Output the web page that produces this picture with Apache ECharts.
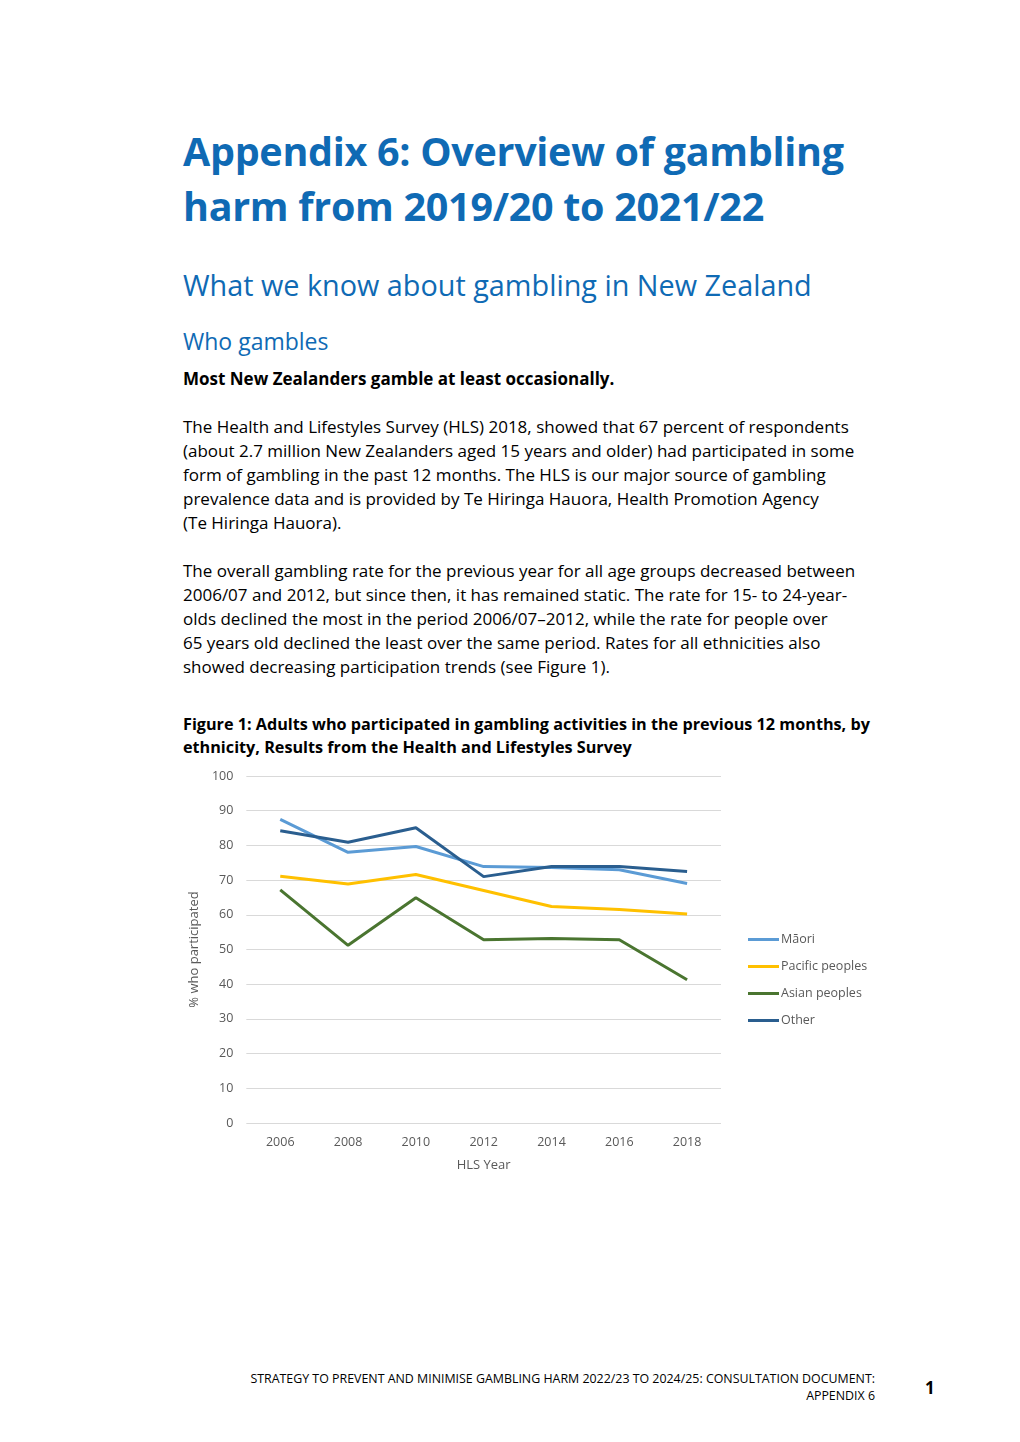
<!DOCTYPE html>
<html>
<head>
<meta charset="utf-8">
<script src="https://cdn.jsdelivr.net/npm/echarts@6/dist/echarts.min.js"></script>
<style>
  html, body { margin: 0; padding: 0; background: #fff; }
  body { width: 1020px; height: 1442px; position: relative; font-family: "Open Sans", "Noto Sans", sans-serif; color: #000; }
  .t { position: absolute; white-space: nowrap; left: 183px; }
  .h1 { font-size: 39.5px; font-weight: 700; color: #0F6AB4; letter-spacing: -0.3px; }
  .h2 { font-size: 28.8px; font-weight: 400; color: #0F6AB4; }
  .h3 { font-size: 23px; font-weight: 400; color: #0F6AB4; }
  .p { font-size: 17px; line-height: 24px; }
  .b { font-weight: 700; }
  .cap { font-size: 16.2px; }
  .foot { font-size: 12.4px; text-align: right; right: 145px; left: auto; }
  #chart { position: absolute; left: 180px; top: 760px; width: 700px; height: 430px; }
</style>
</head>
<body>
<div class="t h1" style="top:124px;">Appendix 6: Overview of gambling</div>
<div class="t h1" style="top:179px;">harm from 2019/20 to 2021/22</div>
<div class="t h2" style="top:265px;">What we know about gambling in New Zealand</div>
<div class="t h3" style="top:325px;">Who gambles</div>
<div class="t p b" style="top:367px;">Most New Zealanders gamble at least occasionally.</div>
<div class="t p" style="top:415px;">The Health and Lifestyles Survey (HLS) 2018, showed that 67 percent of respondents</div>
<div class="t p" style="top:439px;">(about 2.7 million New Zealanders aged 15 years and older) had participated in some</div>
<div class="t p" style="top:463px;">form of gambling in the past 12 months. The HLS is our major source of gambling</div>
<div class="t p" style="top:487px;">prevalence data and is provided by Te Hiringa Hauora, Health Promotion Agency</div>
<div class="t p" style="top:511px;">(Te Hiringa Hauora).</div>
<div class="t p" style="top:559px;">The overall gambling rate for the previous year for all age groups decreased between</div>
<div class="t p" style="top:583px;">2006/07 and 2012, but since then, it has remained static. The rate for 15- to 24-year-</div>
<div class="t p" style="top:607px;">olds declined the most in the period 2006/07–2012, while the rate for people over</div>
<div class="t p" style="top:631px;">65 years old declined the least over the same period. Rates for all ethnicities also</div>
<div class="t p" style="top:655px;">showed decreasing participation trends (see Figure 1).</div>
<div class="t p b cap" style="top:712px;">Figure 1: Adults who participated in gambling activities in the previous 12 months, by</div>
<div class="t p b cap" style="top:735px;">ethnicity, Results from the Health and Lifestyles Survey</div>
<div id="chart"></div>
<div class="t foot" style="top:1370px;">STRATEGY TO PREVENT AND MINIMISE GAMBLING HARM 2022/23 TO 2024/25: CONSULTATION DOCUMENT:</div>
<div class="t foot" style="top:1387px;">APPENDIX 6</div>
<div class="t" style="left:925px; top:1376px; font-size:17px; font-weight:700;">1</div>
<script>
const years = ['2006', '2008', '2010', '2012', '2014', '2016', '2018'];
const maori = [87.5, 78.0, 79.7, 73.9, 73.6, 73.0, 69.0];
const pacific = [71.1, 68.9, 71.6, 67.0, 62.4, 61.5, 60.2];
const asian = [67.2, 51.2, 64.9, 52.8, 53.2, 52.8, 41.3];
const other = [84.2, 80.9, 85.1, 71.0, 73.9, 73.9, 72.5];
const seriesNames = ['Māori', 'Pacific peoples', 'Asian peoples', 'Other'];
const colors = ['#5B9BD5', '#FFC000', '#4A7530', '#2A5E8F'];

const chart = echarts.init(document.getElementById('chart'));
const dataArr = [maori, pacific, asian, other];
chart.setOption({
  animation: false,
  textStyle: { fontFamily: 'Open Sans, Noto Sans, sans-serif' },
  grid: { left: 62, top: 16, width: 479, height: 347, containLabel: false },
  legend: {
    orient: 'vertical', left: 563, top: 168,
    icon: 'rect', itemWidth: 31, itemHeight: 3, itemGap: 14,
    textStyle: { color: '#595959', fontSize: 12.5, padding: [0, 0, 0, -3] },
    data: seriesNames
  },
  xAxis: {
    type: 'category', data: years, boundaryGap: true,
    axisLine: { show: false }, axisTick: { show: false },
    axisLabel: { color: '#595959', fontSize: 12.5, margin: 13 },
    name: 'HLS Year', nameLocation: 'middle', nameGap: 36,
    nameTextStyle: { color: '#595959', fontSize: 13 }
  },
  yAxis: {
    type: 'value', min: 0, max: 100, interval: 10,
    axisLine: { show: false }, axisTick: { show: false },
    axisLabel: { color: '#595959', fontSize: 12.5, margin: 13 },
    splitLine: { lineStyle: { color: '#D9D9D9', width: 1 } },
    name: '% who participated', nameLocation: 'middle', nameGap: 44,
    nameTextStyle: { color: '#595959', fontSize: 13 }
  },
  series: seriesNames.map((n, i) => ({
    name: n, type: 'line', data: dataArr[i], symbol: 'none',
    lineStyle: { color: colors[i], width: 3 }, itemStyle: { color: colors[i] }
  }))
});
</script>
</body>
</html>
